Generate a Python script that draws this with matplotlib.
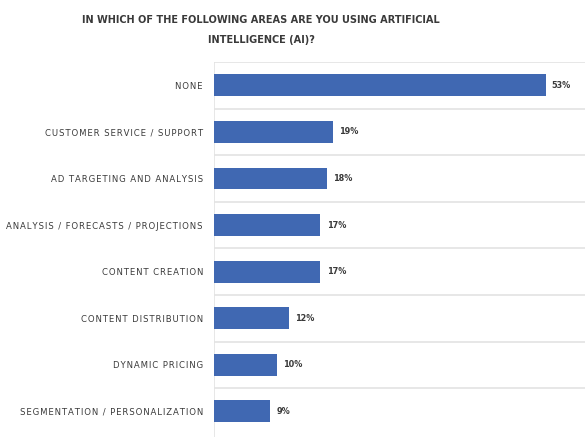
import matplotlib.pyplot as plt

# survey answers, top to bottom
categories = [
    "NONE",
    "CUSTOMER SERVICE / SUPPORT",
    "AD TARGETING AND ANALYSIS",
    "ANALYSIS / FORECASTS / PROJECTIONS",
    "CONTENT CREATION",
    "CONTENT DISTRIBUTION",
    "DYNAMIC PRICING",
    "SEGMENTATION / PERSONALIZATION",
]
values = [53, 19, 18, 17, 17, 12, 10, 9]

title = "IN WHICH OF THE FOLLOWING AREAS ARE YOU USING ARTIFICIAL\nINTELLIGENCE (AI)?"

bar_color = "#4068b2"
text_color = "#3a3a3a"
font = ["DejaVu Sans"]


def spaced(s):
    # the labels in the original are letter-spaced
    return "\u200a".join(s)


fig = plt.figure(figsize=(5.85, 4.37), dpi=100)
ax = fig.add_axes([214 / 585, 0, 1 - 214 / 585, 1 - 62 / 437])

n = len(categories)
pos = list(range(n))
ax.barh(pos, values, height=0.47, color=bar_color, zorder=3)
ax.set_ylim(n - 0.5 + 0.05, -0.5)
ax.set_xlim(0, 59.3)

# light separators between rows
for i in range(n):
    ax.axhline(i - 0.5, color="#e3e3e3", lw=1.2, zorder=1)
ax.axvline(0, color="#e3e3e3", lw=1.2, zorder=1)

for p, v in zip(pos, values):
    ax.text(v + 1.0, p, f"{v}%", va="center", ha="left", fontsize=6.5,
            fontweight="bold", color=text_color, family=font, fontstretch="condensed")

ax.set_yticks(pos)
ax.set_yticklabels([spaced(c) for c in categories], family=font, fontstretch="condensed",
                   fontsize=6.8, color=text_color)
ax.tick_params(axis="y", length=0, pad=8)
ax.set_xticks([])
for s in ax.spines.values():
    s.set_visible(False)

fig.text(261 / 585, 1 - 30 / 437, title, ha="center", va="center", fontsize=7.8,
         fontweight="bold", color=text_color, family=font, fontstretch="condensed",
         linespacing=2.35)

fig.savefig("out.png", dpi=100)
